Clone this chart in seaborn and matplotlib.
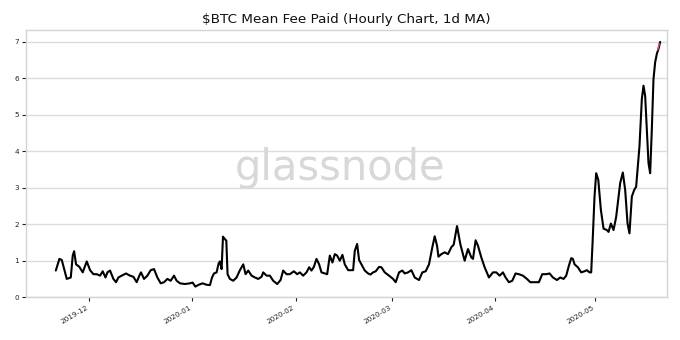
import matplotlib
matplotlib.use("Agg")
import matplotlib.pyplot as plt
import matplotlib.dates as mdates
import pandas as pd
import seaborn as sns

# Hourly mean fee (USD), 1-day moving average, sampled at turning points
timestamps = [
    "2019-11-21 00:00", "2019-11-22 02:00", "2019-11-22 19:00", "2019-11-24 07:00",
    "2019-11-25 12:00", "2019-11-26 02:00", "2019-11-26 12:00", "2019-11-27 02:00",
    "2019-11-28 02:00", "2019-11-29 02:00", "2019-11-30 07:00", "2019-12-01 07:00",
    "2019-12-02 07:00", "2019-12-03 07:00", "2019-12-04 07:00", "2019-12-05 02:00",
    "2019-12-05 22:00", "2019-12-06 12:00", "2019-12-07 07:00", "2019-12-08 07:00",
    "2019-12-09 02:00", "2019-12-09 19:00", "2019-12-10 19:00", "2019-12-12 02:00",
    "2019-12-13 07:00", "2019-12-14 07:00", "2019-12-15 07:00", "2019-12-16 02:00",
    "2019-12-16 14:00", "2019-12-17 12:00", "2019-12-18 12:00", "2019-12-19 12:00",
    "2019-12-20 12:00", "2019-12-21 12:00", "2019-12-22 12:00", "2019-12-23 12:00",
    "2019-12-24 12:00", "2019-12-25 12:00", "2019-12-26 12:00", "2019-12-27 07:00",
    "2019-12-28 07:00", "2019-12-29 19:00", "2019-12-31 07:00", "2020-01-01 02:00",
    "2020-01-01 22:00", "2020-01-02 22:00", "2020-01-04 02:00", "2020-01-05 07:00",
    "2020-01-06 07:00", "2020-01-06 22:00", "2020-01-07 12:00", "2020-01-08 07:00",
    "2020-01-08 22:00", "2020-01-09 07:00", "2020-01-09 19:00", "2020-01-10 05:00",
    "2020-01-10 19:00", "2020-01-11 05:00", "2020-01-11 14:00", "2020-01-12 07:00",
    "2020-01-13 07:00", "2020-01-14 07:00", "2020-01-15 07:00", "2020-01-16 07:00",
    "2020-01-17 00:00", "2020-01-17 19:00", "2020-01-18 19:00", "2020-01-19 19:00",
    "2020-01-20 19:00", "2020-01-21 19:00", "2020-01-22 07:00", "2020-01-23 07:00",
    "2020-01-24 07:00", "2020-01-25 07:00", "2020-01-26 12:00", "2020-01-27 12:00",
    "2020-01-28 07:00", "2020-01-29 07:00", "2020-01-30 07:00", "2020-01-31 12:00",
    "2020-02-01 12:00", "2020-02-02 07:00", "2020-02-03 07:00", "2020-02-04 07:00",
    "2020-02-05 02:00", "2020-02-05 19:00", "2020-02-06 12:00", "2020-02-07 07:00",
    "2020-02-08 02:00", "2020-02-08 19:00", "2020-02-09 19:00", "2020-02-10 12:00",
    "2020-02-11 07:00", "2020-02-12 02:00", "2020-02-12 19:00", "2020-02-13 12:00",
    "2020-02-14 07:00", "2020-02-15 02:00", "2020-02-15 19:00", "2020-02-16 19:00",
    "2020-02-18 07:00", "2020-02-18 19:00", "2020-02-19 12:00", "2020-02-20 02:00",
    "2020-02-20 19:00", "2020-02-21 19:00", "2020-02-22 19:00", "2020-02-23 12:00",
    "2020-02-24 07:00", "2020-02-25 02:00", "2020-02-26 02:00", "2020-02-26 19:00",
    "2020-02-27 19:00", "2020-02-29 02:00", "2020-03-01 07:00", "2020-03-02 02:00",
    "2020-03-03 02:00", "2020-03-04 02:00", "2020-03-04 19:00", "2020-03-05 19:00",
    "2020-03-06 19:00", "2020-03-07 19:00", "2020-03-09 02:00", "2020-03-10 02:00",
    "2020-03-11 02:00", "2020-03-12 02:00", "2020-03-13 02:00", "2020-03-13 19:00",
    "2020-03-14 12:00", "2020-03-14 22:00", "2020-03-15 19:00", "2020-03-16 19:00",
    "2020-03-17 19:00", "2020-03-18 19:00", "2020-03-19 12:00", "2020-03-20 12:00",
    "2020-03-21 02:00", "2020-03-21 12:00", "2020-03-22 19:00", "2020-03-23 19:00",
    "2020-03-24 19:00", "2020-03-25 07:00", "2020-03-26 02:00", "2020-03-26 19:00",
    "2020-03-27 19:00", "2020-03-28 19:00", "2020-03-30 02:00", "2020-03-31 07:00",
    "2020-04-01 07:00", "2020-04-02 07:00", "2020-04-03 07:00", "2020-04-04 02:00",
    "2020-04-05 02:00", "2020-04-06 02:00", "2020-04-07 02:00", "2020-04-08 02:00",
    "2020-04-09 07:00", "2020-04-10 12:00", "2020-04-11 12:00", "2020-04-12 19:00",
    "2020-04-14 02:00", "2020-04-15 02:00", "2020-04-16 07:00", "2020-04-17 07:00",
    "2020-04-18 07:00", "2020-04-19 12:00", "2020-04-20 12:00", "2020-04-21 12:00",
    "2020-04-22 07:00", "2020-04-23 02:00", "2020-04-23 19:00", "2020-04-24 07:00",
    "2020-04-24 19:00", "2020-04-25 19:00", "2020-04-26 19:00", "2020-04-27 19:00",
    "2020-04-28 12:00", "2020-04-29 07:00", "2020-04-29 19:00", "2020-04-30 05:00",
    "2020-04-30 19:00", "2020-05-01 07:00", "2020-05-01 22:00", "2020-05-02 17:00",
    "2020-05-03 12:00", "2020-05-04 12:00", "2020-05-05 00:00", "2020-05-05 17:00",
    "2020-05-06 12:00", "2020-05-07 07:00", "2020-05-08 00:00", "2020-05-08 12:00",
    "2020-05-09 07:00", "2020-05-10 00:00", "2020-05-10 17:00", "2020-05-11 07:00",
    "2020-05-12 00:00", "2020-05-12 17:00", "2020-05-13 07:00", "2020-05-13 17:00",
    "2020-05-14 07:00", "2020-05-15 00:00", "2020-05-15 12:00", "2020-05-16 00:00",
    "2020-05-16 12:00", "2020-05-17 00:00", "2020-05-17 12:00", "2020-05-18 00:00",
    "2020-05-18 12:00", "2020-05-19 00:00", "2020-05-19 12:00", "2020-05-20 00:00",
    "2020-05-20 12:00",
]

mean_fee = [
    0.73, 1.05, 1.02, 0.50,
    0.54, 1.14, 1.26, 0.90,
    0.83, 0.68, 0.98, 0.74,
    0.63, 0.63, 0.59, 0.71,
    0.54, 0.68, 0.73, 0.50,
    0.41, 0.54, 0.59, 0.65,
    0.59, 0.56, 0.41, 0.59,
    0.68, 0.50, 0.59, 0.74,
    0.77, 0.54, 0.38, 0.41,
    0.50, 0.45, 0.59, 0.45,
    0.38, 0.36, 0.38, 0.40,
    0.29, 0.34, 0.38, 0.34,
    0.33, 0.54, 0.65, 0.68,
    0.93, 0.98, 0.77, 1.66,
    1.59, 1.55, 0.63, 0.50,
    0.45, 0.54, 0.74, 0.90,
    0.63, 0.73, 0.59, 0.54,
    0.50, 0.56, 0.68, 0.59,
    0.59, 0.45, 0.36, 0.47,
    0.73, 0.63, 0.63, 0.71,
    0.63, 0.68, 0.59, 0.68,
    0.82, 0.73, 0.83, 1.05,
    0.90, 0.68, 0.65, 0.63,
    1.14, 0.95, 1.18, 1.14,
    1.00, 1.16, 0.90, 0.74,
    0.74, 1.27, 1.46, 1.02,
    0.90, 0.73, 0.65, 0.62,
    0.68, 0.71, 0.83, 0.82,
    0.68, 0.59, 0.50, 0.41,
    0.68, 0.73, 0.65, 0.68,
    0.74, 0.54, 0.47, 0.68,
    0.71, 0.90, 1.37, 1.67,
    1.41, 1.11, 1.18, 1.23,
    1.18, 1.37, 1.44, 1.95,
    1.65, 1.45, 1.00, 1.32,
    1.09, 1.05, 1.56, 1.41,
    1.09, 0.82, 0.54, 0.68,
    0.68, 0.59, 0.68, 0.54,
    0.41, 0.45, 0.65, 0.63,
    0.59, 0.50, 0.41, 0.41,
    0.41, 0.63, 0.63, 0.65,
    0.54, 0.47, 0.54, 0.50,
    0.59, 0.86, 1.07, 1.05,
    0.90, 0.82, 0.68, 0.71,
    0.74, 0.68, 0.68, 1.50,
    2.76, 3.40, 3.22, 2.39,
    1.88, 1.84, 1.79, 2.02,
    1.84, 2.20, 2.76, 3.13,
    3.42, 2.94, 2.02, 1.75,
    2.76, 2.94, 3.03, 3.49,
    4.14, 5.43, 5.80, 5.52,
    4.60, 3.68, 3.40, 4.60,
    5.98, 6.44, 6.67, 6.81,
    7.00,
]

# Latest partial readings, shown in red
latest_times = ["2020-05-19 18:00", "2020-05-20 06:00"]
latest_fee = [6.78, 6.95]

title = "$BTC Mean Fee Paid (Hourly Chart, 1d MA)"
watermark = "glassnode"

df = pd.DataFrame({"t": pd.to_datetime(timestamps), "fee": mean_fee})
df_latest = pd.DataFrame({"t": pd.to_datetime(latest_times), "fee": latest_fee})

sns.set_style("whitegrid", {
    "axes.edgecolor": "#d4d4d4",
    "grid.color": "#dcdcdc",
    "xtick.bottom": True,
    "ytick.left": True,
})
plt.rcParams["font.family"] = ["DejaVu Sans"]
plt.rcParams["xtick.major.size"] = 3
plt.rcParams["ytick.major.size"] = 3
plt.rcParams["xtick.major.width"] = 0.8
plt.rcParams["ytick.major.width"] = 0.8
plt.rcParams["xtick.color"] = "#222222"
plt.rcParams["ytick.color"] = "#222222"

fig, ax = plt.subplots(figsize=(6.8, 3.4), dpi=100)
fig.subplots_adjust(left=0.038, right=0.981, top=0.912, bottom=0.126)

fig.text(0.5, 0.505, watermark, ha="center", va="center",
         fontsize=30, color="#d8d8d8", family="DejaVu Sans", zorder=0)

sns.lineplot(data=df, x="t", y="fee", ax=ax, color="black",
             linewidth=1.5, estimator=None, zorder=3)
sns.lineplot(data=df_latest, x="t", y="fee", ax=ax, color="#e8506a",
             linewidth=1.0, estimator=None, zorder=4)

ax.set_facecolor("none")
ax.patch.set_alpha(0)
ax.grid(False, axis="x")
ax.grid(True, axis="y", linewidth=1.0)
ax.set_xlabel("")
ax.set_ylabel("")
ax.set_title(title, fontsize=9.7, color="#111111", pad=5)

ax.set_xlim(pd.Timestamp("2019-11-12 00:00"), pd.Timestamp("2020-05-22 14:00"))
ax.set_ylim(0.0, 7.33)
ax.set_yticks(range(0, 8))
ax.xaxis.set_major_locator(mdates.MonthLocator())
ax.xaxis.set_major_formatter(mdates.DateFormatter("%Y-%m"))
ax.tick_params(axis="both", labelsize=5.2, pad=2)
for lbl in ax.get_xticklabels():
    lbl.set_rotation(30)
    lbl.set_ha("right")
for s in ax.spines.values():
    s.set_linewidth(1.0)

fig.savefig("out.png", dpi=100, facecolor="white")
